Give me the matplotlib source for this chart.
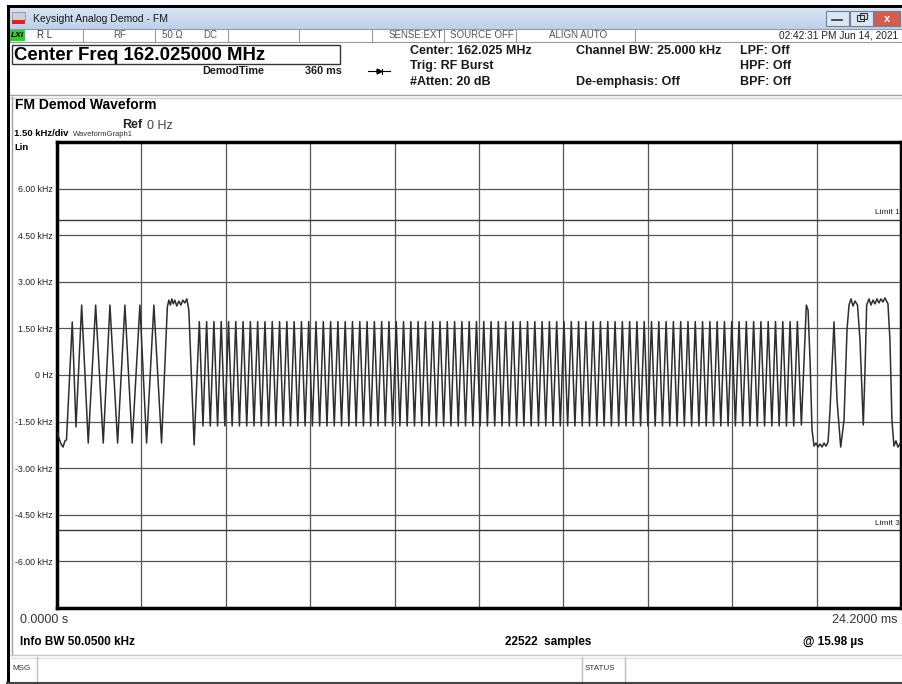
import numpy as np
import matplotlib
matplotlib.use("Agg")
import matplotlib.pyplot as plt
from matplotlib.patches import Rectangle

plt.rcParams['font.family'] = ['Liberation Sans', 'DejaVu Sans']

# waveform: time in ms, deviation in kHz
# preamble (low start, 2.4 kHz-ish sync tones, flat top)
pre_t = [0.000, 0.057, 0.115, 0.172, 0.229, 0.272, 0.438, 0.544, 0.707, 0.896,
         1.108, 1.326, 1.518, 1.738, 1.947, 2.156, 2.377, 2.569, 2.778, 2.998,
         3.164, 3.207, 3.250, 3.293, 3.336, 3.379, 3.436, 3.494, 3.551, 3.608,
         3.665, 3.723, 3.780, 3.932]
pre_f = [-1.83, -2.03, -2.22, -2.32, -2.12, -2.09, 1.71, -1.67, 2.25, -2.19,
         2.25, -2.19, 2.25, -2.19, 2.25, -2.19, 2.25, -2.19, 2.25, -2.19,
         2.19, 2.41, 2.25, 2.45, 2.29, 2.41, 2.22, 2.38, 2.25, 2.41,
         2.32, 2.45, 2.09, -2.25]

# dense alternating burst
burst_first_peak = 4.081
burst_last_peak = 21.229
burst_peaks = 83
burst_hi = 1.72
burst_lo = -1.64

# tail after the burst
tail_t = [21.343, 21.486, 21.535, 21.592, 21.649, 21.707, 21.764, 21.821, 21.878, 21.936,
          21.993, 22.050, 22.108, 22.165, 22.279, 22.365, 22.471, 22.566, 22.652, 22.709,
          22.766, 22.824, 22.881, 22.953, 23.024, 23.119, 23.168, 23.216, 23.282, 23.339,
          23.396, 23.454, 23.511, 23.568, 23.625, 23.683, 23.740, 23.826, 23.883, 23.940,
          23.998, 24.055, 24.112, 24.170]
tail_f = [-1.61, 2.25, 2.09, 0.48, -1.77, -2.29, -2.19, -2.32, -2.22, -2.32,
          -2.19, -2.29, -2.16, -1.13, 1.71, -0.80, -2.32, -1.45, 1.45, 2.25,
          2.45, 2.22, 2.38, 2.25, 1.13, -1.61, 0.16, 2.25, 2.45, 2.25,
          2.41, 2.29, 2.45, 2.32, 2.45, 2.35, 2.48, 2.29, 1.13, -1.45,
          -2.29, -2.12, -2.32, -2.22]

span_ms = 24.2
div_khz = 1.5
limit_khz = [5.0, -5.0]
limit_names = ["Limit 1", "Limit 3"]
ytick_khz = [6.0, 4.5, 3.0, 1.5, 0.0, -1.5, -3.0, -4.5, -6.0]
ytick_labels = ["6.00 kHz", "4.50 kHz", "3.00 kHz", "1.50 kHz", "0 Hz",
                "-1.50 kHz", "-3.00 kHz", "-4.50 kHz", "-6.00 kHz"]

W, H = 902, 684
fig = plt.figure(figsize=(W / 100, H / 100), dpi=100)
fig.patch.set_facecolor("white")

# screen chrome drawn in pixel coordinates
ui = fig.add_axes([0, 0, 1, 1], zorder=0)
ui.set_xlim(0, W)
ui.set_ylim(H, 0)
ui.axis("off")


def txt(x, y, s, size=7.5, bold=False, color="#1a1a1a", ha="left", **kw):
    ui.text(x, y, s, fontsize=size, fontweight="bold" if bold else "normal",
            color=color, ha=ha, va="center", **kw)


def box(x, y, w, h, fc="none", ec="none", lw=1.0):
    ui.add_patch(Rectangle((x, y), w, h, facecolor=fc, edgecolor=ec, lw=lw))


# outer frame
box(7, 5, W - 7, 3, fc="black")
box(7, 5, 3, H - 5, fc="black")

# title bar
grad = np.linspace(0, 1, 20).reshape(-1, 1)
ui.imshow(grad, extent=[10, W, 29, 8], aspect="auto", cmap=matplotlib.colors.LinearSegmentedColormap.from_list(
    "tb", ["#d7e4f4", "#bcd0ea"]), zorder=1)
box(12, 12, 13, 8, fc="#cfcfcf", ec="#888888", lw=0.5)
box(12, 20, 13, 4, fc="#e0201e")
txt(33, 19, "Keysight Analog Demod - FM", size=7.5)
for bx, fc in [(826, "#dbe5f3"), (850, "#dbe5f3"), (874, "#d65a4f")]:
    box(bx, 11, 23 if bx < 874 else 26, 15, fc=fc, ec="#6d7f99", lw=0.8)
ui.plot([832, 842], [20, 20], color="#333333", lw=1.2)
box(857, 15, 7, 6, ec="#333333", lw=0.8)
box(860, 13, 7, 6, ec="#333333", lw=0.8)
txt(887, 18.5, "x", size=8, bold=True, color="white", ha="center")

# status row
box(10, 29, W - 10, 13, fc="white", ec="#9a9a9a", lw=0.8)
box(10, 30, 15, 11, fc="#2ecc2e")
txt(11, 35.5, "LXI", size=6, bold=True, color="black", style="italic")
for sx in [83, 155, 228, 299, 372, 444, 516, 635]:
    ui.plot([sx, sx], [29, 42], color="#9a9a9a", lw=0.8)
txt(37, 35.5, "R L", size=7, color="#333333")
txt(113, 35.5, "RF", size=7, color="#555555")
txt(162, 35.5, "50 Ω", size=7, color="#555555")
txt(203, 35.5, "DC", size=7, color="#555555")
txt(389, 35.5, "SENSE:EXT", size=7, color="#555555")
txt(450, 35.5, "SOURCE OFF", size=7, color="#555555")
txt(549, 35.5, "ALIGN AUTO", size=7, color="#555555")
txt(898, 35.5, "02:42:31 PM Jun 14, 2021", size=7.3, color="#222222", ha="right")

# measurement header
box(12, 45, 328, 19, ec="#333333", lw=1.0)
txt(14, 55, "Center Freq 162.025000 MHz", size=13.4, bold=True, color="black")
txt(202, 71, "DemodTime", size=7.8, bold=True)
txt(305, 71, "360 ms", size=7.8, bold=True)
ui.plot([368, 390], [71, 71], color="black", lw=0.8)
ui.plot([379], [71], marker=">", color="black", markersize=3.5)
ui.plot([382, 382], [68.5, 73.5], color="black", lw=0.8)
txt(410, 51, "Center: 162.025 MHz", size=9, bold=True)
txt(410, 66, "Trig: RF Burst", size=9, bold=True)
txt(410, 82, "#Atten: 20 dB", size=9, bold=True)
txt(576, 51, "Channel BW: 25.000 kHz", size=9, bold=True)
txt(576, 82, "De-emphasis: Off", size=9, bold=True)
txt(740, 51, "LPF: Off", size=9, bold=True)
txt(740, 66, "HPF: Off", size=9, bold=True)
txt(740, 82, "BPF: Off", size=9, bold=True)
ui.plot([10, W], [95, 95], color="#a0a0a0", lw=1.0)
ui.plot([10, W], [97.5, 97.5], color="#d0d0d0", lw=1.0)

# graph panel labels
ui.plot([12, 12], [97, 655], color="#a0a0a0", lw=1.0)
txt(15, 105, "FM Demod Waveform", size=10, bold=True, color="black")
txt(122, 125, "Ref", size=9, bold=True, color="#222222")
txt(147, 126, "0 Hz", size=9, color="#444444")
txt(73, 134, "WaveformGraph1", size=5.5, color="#333333")
txt(14, 134, "1.50 kHz/div", size=6.8, bold=True, color="black")
txt(14, 148, "Lin", size=6.8, bold=True, color="black")

# bottom annotations
txt(20, 620, "0.0000 s", size=9, color="#333333")
txt(898, 620, "24.2000 ms", size=9, color="#333333", ha="right")
txt(20, 642, "Info BW 50.0500 kHz", size=8.5, bold=True, color="black")
txt(505, 642, "22522  samples", size=8.5, bold=True, color="black")
txt(803, 642, "@ 15.98 µs", size=8.5, bold=True, color="black")
ui.plot([10, W], [655, 655], color="#c8c8c8", lw=1.0)
ui.plot([10, W], [657.5, 657.5], color="#e0e0e0", lw=1.0)
for sx in [37, 582, 625]:
    ui.plot([sx, sx], [657, 682], color="#c0c0c0", lw=1.0)
txt(12, 669, "MSG", size=5.8, color="#333333")
txt(585, 669, "STATUS", size=5.8, color="#333333")
ui.plot([7, W], [682.5, 682.5], color="#444444", lw=1.5)

# waveform graph
left, right, top, bottom = 57, 901, 142, 608
ax = fig.add_axes([left / W, 1 - bottom / H, (right - left) / W, (bottom - top) / H], zorder=2)
ax.set_facecolor("white")

peaks = np.linspace(burst_first_peak, burst_last_peak, burst_peaks)
burst_t = np.empty(2 * burst_peaks - 1)
burst_f = np.empty(2 * burst_peaks - 1)
burst_t[0::2] = peaks
burst_t[1::2] = (peaks[:-1] + peaks[1:]) / 2
burst_f[0::2] = burst_hi
burst_f[1::2] = burst_lo

wave_t = np.concatenate([pre_t, burst_t, tail_t])
wave_f = np.concatenate([pre_f, burst_f, tail_f])

ax.plot(wave_t, wave_f, color="#2e2e2e", lw=1.1, zorder=3)

for v, name in zip(limit_khz, limit_names):
    ax.axhline(v, color="#3a3a3a", lw=1.0, zorder=2)
    ax.text(span_ms * 0.999, v + 0.12, name, ha="right", va="bottom",
            fontsize=6, color="#222222")

ax.set_xlim(0, span_ms)
ax.set_ylim(-5 * div_khz, 5 * div_khz)
ax.set_xticks(np.arange(1, 10) * span_ms / 10)
ax.set_yticks(ytick_khz)
ax.set_yticklabels(ytick_labels)
ax.tick_params(length=0, labelbottom=False, labelsize=6.3, labelcolor="#222222", pad=3)
ax.grid(True, color="#555555", lw=0.9, zorder=1)
ax.set_axisbelow(True)
for s in ax.spines.values():
    s.set_linewidth(2.5)
    s.set_color("black")

fig.savefig("out.png", dpi=100)
